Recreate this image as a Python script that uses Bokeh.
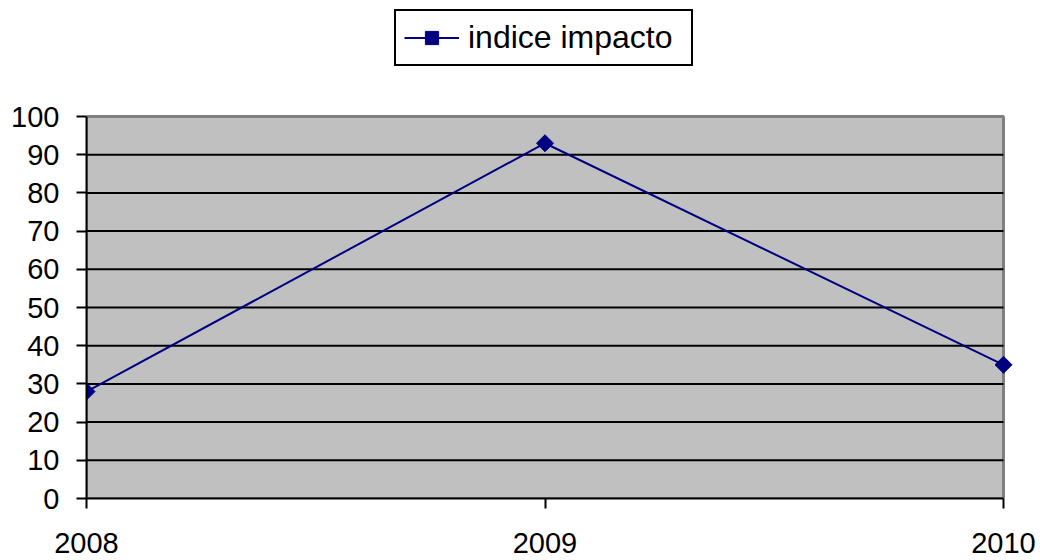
import math
from bokeh.plotting import figure
from bokeh.models import Range1d, FixedTicker, Legend, LegendItem, BoxAnnotation
from bokeh.embed import file_html
from bokeh.resources import INLINE

years = [2008, 2009, 2010]
indice_impacto = [28, 93, 35]
y_ticks = [0, 10, 20, 30, 40, 50, 60, 70, 80, 90, 100]
series_name = "indice impacto"

FONT = "Liberation Sans"
NAVY = "#000080"
Y_MIN, Y_MAX = 0, 100
PX_PER_UNIT = 3.82          # vertical pixels per unit
PX_PER_YEAR = 458.5         # horizontal pixels per year
FRAME_TOP, FRAME_BOTTOM = 5, 498
BORDER_L, BORDER_R = 86, 25
AXIS_X_END = 1003           # where 2010 sits

x_end = years[-1] + (1040 - BORDER_R - AXIS_X_END) / PX_PER_YEAR

p = figure(width=1040, height=560, output_backend="svg", toolbar_location=None,
           x_range=Range1d(years[0], x_end),
           y_range=Range1d(Y_MIN, (FRAME_BOTTOM - FRAME_TOP) / PX_PER_UNIT),
           min_border_left=BORDER_L, min_border_right=BORDER_R,
           min_border_top=FRAME_TOP, min_border_bottom=560 - FRAME_BOTTOM)
p.background_fill_color = "white"
p.border_fill_color = "white"
p.outline_line_color = None
p.xgrid.visible = False
p.ygrid.visible = False

plot_bg = BoxAnnotation(left=years[0], right=years[-1], bottom=Y_MIN, top=Y_MAX,
                        fill_color="#C0C0C0", fill_alpha=1,
                        line_color="#808080", line_width=3, line_alpha=1,
                        level="image")
p.add_layout(plot_bg)

grid_ticks = y_ticks[1:-1]
p.segment(x0=[years[0]] * len(grid_ticks), x1=[years[-1]] * len(grid_ticks),
          y0=grid_ticks, y1=grid_ticks, line_color="black", line_width=2,
          level="underlay")

r_line = p.line(years, indice_impacto, line_color=NAVY, line_width=2)
r_pts = p.scatter(years, indice_impacto, marker="square", angle=math.pi / 4,
                  size=12, fill_color=NAVY, line_color=NAVY)

p.yaxis.ticker = FixedTicker(ticks=y_ticks)
p.yaxis.bounds = (Y_MIN, Y_MAX)
p.xaxis.ticker = FixedTicker(ticks=years)
p.xaxis.bounds = (years[0], years[-1])
for ax in (p.xaxis, p.yaxis):
    ax.axis_line_color = "black"
    ax.axis_line_width = 2
    ax.major_tick_line_color = "black"
    ax.major_tick_line_width = 2
    ax.major_tick_out = 10
    ax.major_tick_in = 0
    ax.minor_tick_line_color = None
    ax.major_label_text_font = FONT
    ax.major_label_text_font_size = "29px"
    ax.major_label_text_color = "black"
p.yaxis.major_label_standoff = 17
p.xaxis.major_label_standoff = 24
p.xaxis.major_label_text_line_height = 0.8

legend = Legend(items=[LegendItem(label=series_name, renderers=[r_line, r_pts])],
                location=(394 - BORDER_L, FRAME_BOTTOM - 66), orientation="horizontal")
legend.border_line_color = "black"
legend.border_line_width = 2
legend.border_line_alpha = 1
legend.background_fill_color = "white"
legend.background_fill_alpha = 1
legend.label_text_font = FONT
legend.label_text_font_size = "32px"
legend.label_text_color = "black"
legend.glyph_width = 55
legend.glyph_height = 33
legend.label_height = 33
legend.label_width = 215
legend.padding = 8
legend.spacing = 0
legend.margin = 0
legend.label_standoff = 9
p.add_layout(legend, "center")

open("out.html", "w").write(file_html(p, INLINE))
